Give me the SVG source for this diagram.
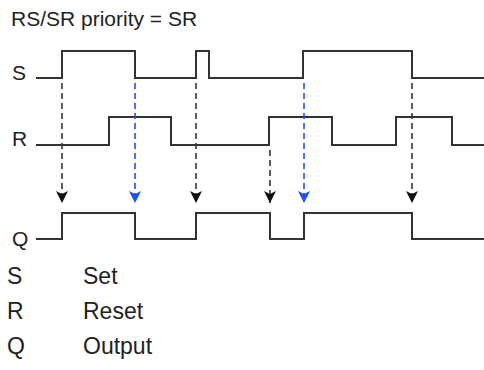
<svg xmlns="http://www.w3.org/2000/svg" width="484" height="370" viewBox="0 0 484 370">
<style>
text{font-family:"Liberation Sans",Arial,sans-serif;fill:#222;}
.t{font-size:21px;}
.l{font-size:21px;}
.g{font-size:23px;}
.sig{fill:none;stroke:#333;stroke-width:2;}
.dk{stroke:#333;stroke-width:1.6;stroke-dasharray:6,4;fill:none;}
.bl{stroke:#1f4fff;stroke-width:1.6;stroke-dasharray:6,4;fill:none;}
</style>
<defs>
<marker id="ak" markerUnits="userSpaceOnUse" markerWidth="13" markerHeight="13" refX="12" refY="6" orient="auto" viewBox="0 0 13 12"><path d="M0,0 L12,6 L0,12 L3,6 z" fill="#111"/></marker>
<marker id="ab" markerUnits="userSpaceOnUse" markerWidth="13" markerHeight="13" refX="12" refY="6" orient="auto" viewBox="0 0 13 12"><path d="M0,0 L12,6 L0,12 L3,6 z" fill="#1f4fff"/></marker>
</defs>
<text class="t" x="11" y="26">RS/SR priority = SR</text>
<g id="S"><text class="l" x="12" y="80">S</text><path class="sig" d="M36,78 H62 V51 H135 V78 H196 V51 H209 V78 H303 V51 H412 V78 H484"/></g>
<g id="R"><text class="l" x="12" y="146">R</text><path class="sig" d="M36,145 H109 V117 H171 V145 H269 V117 H332 V145 H396 V117 H452 V145 H484"/></g>
<g id="Q"><text class="l" x="12" y="246">Q</text><path class="sig" d="M36,239 H62 V213 H135 V239 H196 V213 H270 V239 H304 V213 H412 V239 H484"/></g>
<g id="connectors">
<path class="dk" d="M62,83 V203" marker-end="url(#ak)"/>
<path class="bl" d="M135,83 V203" marker-end="url(#ab)"/>
<path class="dk" d="M196,83 V203" marker-end="url(#ak)"/>
<path class="dk" d="M270,150 V203" marker-end="url(#ak)"/>
<path class="bl" d="M304,83 V203" marker-end="url(#ab)"/>
<path class="dk" d="M412,83 V203" marker-end="url(#ak)"/>
</g>
<g id="legend">
<text class="g" x="7" y="284">S</text><text class="g" x="83" y="284">Set</text>
<text class="g" x="7" y="319">R</text><text class="g" x="83" y="319">Reset</text>
<text class="g" x="7" y="354">Q</text><text class="g" x="83" y="354">Output</text>
</g>
</svg>
